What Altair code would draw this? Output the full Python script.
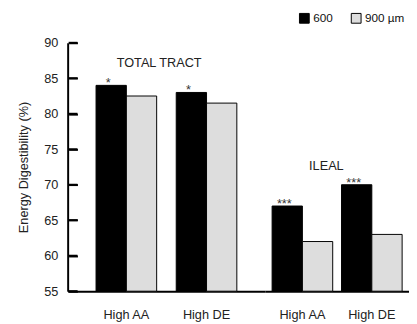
import altair as alt
import pandas as pd

sections = ["TOTAL TRACT", "TOTAL TRACT", "ILEAL", "ILEAL"]
diets = ["High AA", "High DE", "High AA", "High DE"]
sizes = ["600", "900 µm"]
v600 = [84.0, 83.0, 67.0, 70.0]
v900 = [82.5, 81.5, 62.0, 63.0]
signif = ["*", "*", "***", "***"]
y_ticks = [55, 60, 65, 70, 75, 80, 85, 90]
diet_order = ["High AA", "High DE"]

rows = []
for s, d, a, b in zip(sections, diets, v600, v900):
    rows.append(dict(section=s, diet=d, size=sizes[0], value=a))
    rows.append(dict(section=s, diet=d, size=sizes[1], value=b))
df = pd.DataFrame(rows)
stars = pd.DataFrame(dict(section=sections, diet=diets, size=sizes[0],
                          value=v600, label=signif))
tick_df = pd.DataFrame({"tickval": y_ticks})

FONT = "Liberation Sans"
YTITLE = "Energy Digestibility (%)"
LEFT_W = 202
yscale = alt.Scale(domain=[55, 90], zero=False, nice=False)
legend = alt.Legend(title=None, orient="none", direction="horizontal",
                    legendX=236, legendY=-31, symbolType="square",
                    symbolSize=100, symbolStrokeColor="black",
                    symbolStrokeWidth=1, labelFontSize=12, labelFont=FONT,
                    labelColor="#111", labelOffset=3, columnPadding=16)
color = alt.Color("size:N", scale=alt.Scale(domain=sizes, range=["black", "#dddddd"]),
                  legend=legend)


def panel(section, width, pin, pout, show_y, label_dx, label_y):
    sub = df[df.section == section]
    st = stars[stars.section == section]
    xs = alt.X("diet:N", sort=diet_order,
               scale=alt.Scale(paddingInner=pin, paddingOuter=pout),
               axis=alt.Axis(title=None, labelAngle=0, ticks=False,
                             domainColor="black", domainWidth=2,
                             labelFontSize=13, labelPadding=18,
                             labelColor="#222", labelFont=FONT))
    if show_y:
        yaxis = alt.Axis(title=YTITLE, values=y_ticks, ticks=False,
                         labelOverlap=False, grid=False,
                         domainColor="black", domainWidth=2,
                         labelFontSize=13, labelFont=FONT, labelColor="#222",
                         labelPadding=10, titleFontSize=13, titleFont=FONT,
                         titleFontWeight="normal", titleColor="#222",
                         titlePadding=14)
        # inward ticks: a right-oriented axis moved onto the left edge
        yaxis2 = alt.Axis(title=None, orient="right", offset=-(width - 1),
                          values=y_ticks, labels=False, domain=False,
                          grid=False, ticks=True, tickSize=9, tickWidth=2,
                          tickColor="black", zindex=1)
    else:
        yaxis = None
        yaxis2 = None
    xoff = alt.XOffset("size:N", sort=sizes,
                       scale=alt.Scale(domain=sizes, paddingInner=0, paddingOuter=0))
    bars = alt.Chart(sub).mark_bar(stroke="black", strokeWidth=1).encode(
        x=xs, xOffset=xoff,
        y=alt.Y("value:Q", scale=yscale, axis=yaxis),
        y2=alt.datum(55),
        color=color,
    )
    star_txt = alt.Chart(st).mark_text(baseline="alphabetic", dy=2, dx=-3,
                                       fontSize=13, font=FONT, color="#333").encode(
        x=alt.X("diet:N", sort=diet_order),
        xOffset=alt.XOffset("size:N", sort=sizes),
        y=alt.Y("value:Q", scale=yscale, axis=yaxis2),
        text="label:N",
    )
    title_txt = alt.Chart(pd.DataFrame({"t": [section]})).mark_text(
        fontSize=13, font=FONT, color="#222", baseline="middle", dx=label_dx).encode(
        x=alt.datum(diet_order[0]),
        y=alt.Y(datum=label_y, scale=yscale, axis=None),
        text="t:N",
    )
    layers = [bars, star_txt, title_txt]
    if show_y:
        tick_rules = alt.Chart(tick_df).mark_rule(
            color="black", strokeWidth=2).encode(
            x=alt.value(1), x2=alt.value(10),
            y=alt.Y("tickval:Q", scale=yscale, axis=None),
        )
        layers.append(tick_rules)
    lay = alt.layer(*layers).properties(width=width, height=254)
    if show_y:
        lay = lay.resolve_axis(y="independent")
    return lay


left = panel("TOTAL TRACT", LEFT_W, 0.244, 0.354, True, 33.5, 87.2)
right = panel("ILEAL", 147, 0.127, 0.099, False, 24.5, 72.6)

chart = alt.hconcat(left, right, spacing=0).resolve_scale(
    x="independent", xOffset="independent"
).properties(
    padding={"left": 9, "top": 1, "right": 0, "bottom": 0}
).configure_view(stroke=None)

chart.save("out.html", embed_options={"renderer": "svg", "actions": False})
